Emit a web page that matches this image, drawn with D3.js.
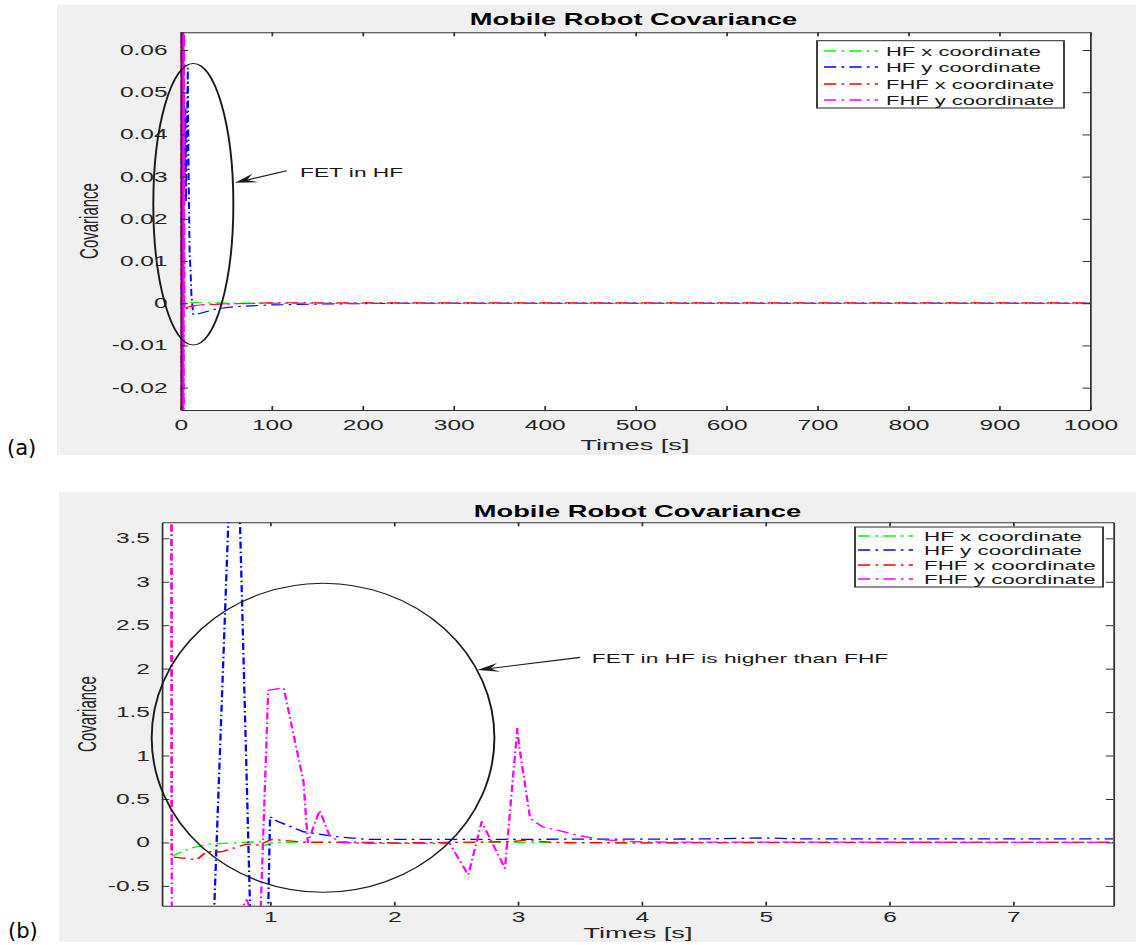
<!DOCTYPE html>
<html><head><meta charset="utf-8">
<script src="https://cdn.jsdelivr.net/npm/d3@7"></script>
<style>body{margin:0;background:#fff}svg{display:block}</style>
</head><body>
<svg id="c" width="1136" height="945"></svg>
<script>
// ---------- data ----------
const legendLabels = ["HF x coordinate", "HF y coordinate", "FHF x coordinate", "FHF y coordinate"];
const seriesColors = ["#00ff00", "#0000ff", "#ff0000", "#ff00ff"];
const titleText = "Mobile Robot Covariance";
const xLabelText = "Times [s]";
const yLabelText = "Covariance";
const panelLabels = ["(a)", "(b)"];

const topXTicks = [0, 100, 200, 300, 400, 500, 600, 700, 800, 900, 1000];
const topYTicks = [-0.02, -0.01, 0, 0.01, 0.02, 0.03, 0.04, 0.05, 0.06];
const botXTicks = [1, 2, 3, 4, 5, 6, 7];
const botYTicks = [-0.5, 0, 0.5, 1, 1.5, 2, 2.5, 3, 3.5];

// panel (a) series: [time, covariance]
const topHFx = [[0,0],[1,0.004],[2,-0.003],[3,0.002],[4,-0.0008],[6,0.0004],[10,0.0002],[30,0.0001],[100,0],[1000,0]];
const topHFy = [[0,0.012],[1,0.048],[1.5,0.02],[2.5,0.042],[3,0.026],[4,0.05],[4.5,0.03],[5.5,0.046],[6,0.024],[7,0.04],[8,0.0557],[9,0.03],[10,0.012],[11,0.008],[12,0.002],[14,-0.0028],[20,-0.0025],[40,-0.0013],[60,-0.0008],[100,-0.0004],[150,-0.0002],[250,0],[1000,0]];
const topFHFx = [[0,0.07],[0.6,-0.07],[1.2,0.06],[1.8,-0.05],[2.4,-0.001],[5,-0.0012],[10,-0.0008],[20,-0.0004],[50,-0.0002],[100,0.0001],[1000,0.0001]];
const topFHFy = [[0,0.1],[0.4,-0.1],[0.8,0.1],[1.2,-0.1],[1.6,0.1],[2,-0.1],[2.4,0.1],[2.8,-0.1],[3.2,0.1],[3.6,-0.1],[4,0.1],[4.4,-0.0015],[8,-0.0012],[15,-0.0006],[30,-0.0002],[100,0],[1000,0]];

// panel (b) series
const botHFx = [[0.206,-0.16],[0.354,-0.068],[0.5,-0.02],[0.7,-0.005],[0.92,0.008],[0.946,-0.04],[1.026,0],[1.3,0.005],[1.6,-0.005],[2,-0.005],[2.5,0],[3,0],[3.5,-0.005],[4.5,-0.003],[5.5,-0.003],[6.5,0],[7.81,0]];
const botHFy = [[0.466,-4],[0.718,5.82],[0.898,-4],[0.941,-4],[1.0,0.296],[1.05,0.25],[1.268,0.123],[1.538,0.066],[1.78,0.035],[2.45,0.035],[3,0.035],[3.5,0.038],[4,0.038],[4.5,0.04],[5,0.052],[5.3,0.04],[6,0.04],[7,0.04],[7.81,0.042]];
const botFHFx = [[0.2,10],[0.206,-0.165],[0.408,-0.2],[0.488,-0.107],[0.61,-0.107],[0.81,-0.02],[0.91,-0.03],[1.013,0.035],[1.3,0],[1.6,0.005],[2,-0.005],[2.5,0],[2.95,0.01],[3.05,0.025],[3.3,0],[4,-0.005],[5,0],[7.81,0]];
const botFHFy = [[0.2,10],[0.212,-10],[0.3,-3],[0.72,-0.9],[0.811,-0.66],[0.87,-0.85],[0.89,-2.2],[0.985,1.75],[1.11,1.78],[1.27,0.7],[1.305,0],[1.4,0.37],[1.48,0.08],[1.57,0],[1.8,-0.01],[2.45,-0.01],[2.601,-0.375],[2.709,0.238],[2.897,-0.298],[2.997,1.313],[3.01,1.13],[3.1,0.277],[3.2,0.18],[3.53,0.07],[3.7,0.03],[4,0.005],[7.81,0]];

// annotations in data units: ellipse [cx, cy, rx, ry], arrow [tail, tip], note [t, v]
const topEllipse = [14.1, 0.02346, 44, 0.03336];
const topArrow = [[116.8, 0.0314], [59.9, 0.02855]];
const topNote = [131.4, 0.02998];
const topNoteText = "FET in HF";
const botEllipse = [1.428, 1.204, 1.384, 1.778];
const botArrow = [[3.504, 2.13], [2.674, 1.984]];
const botNote = [3.598, 2.061];
const botNoteText = "FET in HF is higher than FHF";

// ---------- drawing ----------
const SX = 1.75;           // horizontal stretch of the original figure
const FONT = "'Liberation Sans', Arial, Helvetica, sans-serif";
const svg = d3.select("#c");

function panel(o, idx) {
  const g = svg.append("g").attr("transform", `scale(${SX},1)`);
  const L = o.plot[0] / SX, T = o.plot[1], R = o.plot[2] / SX, B = o.plot[3];
  g.append("rect").attr("x", o.bg[0] / SX).attr("y", o.bg[1])
    .attr("width", (o.bg[2] - o.bg[0]) / SX).attr("height", o.bg[3] - o.bg[1]).attr("fill", "#f0f0f0");
  g.append("rect").attr("x", L).attr("y", T).attr("width", R - L).attr("height", B - T).attr("fill", "#fff");

  const x = d3.scaleLinear().domain(o.xDomain).range([L, R]);
  const y = d3.scaleLinear().domain(o.yDomain).range([B, T]);

  const cid = "clip" + idx;
  g.append("clipPath").attr("id", cid).append("rect")
    .attr("x", L).attr("y", T).attr("width", R - L).attr("height", B - T);

  const line = d3.line().x(d => x(d[0])).y(d => y(d[1]));
  const lines = g.append("g").attr("clip-path", `url(#${cid})`);
  o.series.forEach((s, i) => {
    lines.append("path").attr("d", line(s)).attr("fill", "none")
      .attr("stroke", seriesColors[i]).attr("stroke-width", o.lw)
      .attr("stroke-dasharray", o.dash).attr("stroke-linejoin", "round");
  });

  // axes (box with inward ticks)
  const styleAxis = (sel, fs) => {
    sel.attr("font-family", FONT).attr("font-size", fs);
    sel.selectAll(".domain").attr("stroke", "#333").attr("stroke-width", 1);
    sel.selectAll(".tick line").attr("stroke", "#333").attr("stroke-width", 1);
    sel.selectAll(".tick text").attr("fill", "#262626");
  };
  styleAxis(g.append("g").attr("transform", `translate(0,${B})`)
    .call(d3.axisBottom(x).tickValues(o.xTicks).tickSize(-4).tickSizeOuter(0).tickPadding(o.xPad).tickFormat(d => String(d))), o.tickFs);
  styleAxis(g.append("g").attr("transform", `translate(0,${T})`)
    .call(d3.axisTop(x).tickValues(o.xTicks).tickSize(-4).tickSizeOuter(0).tickFormat("")), o.tickFs);
  styleAxis(g.append("g").attr("transform", `translate(${L},0)`)
    .call(d3.axisLeft(y).tickValues(o.yTicks).tickSize(-4.3).tickSizeOuter(0).tickPadding(o.yPad).tickFormat(o.fmt)), o.tickFs);
  styleAxis(g.append("g").attr("transform", `translate(${R},0)`)
    .call(d3.axisRight(y).tickValues(o.yTicks).tickSize(-4.3).tickSizeOuter(0).tickFormat("")), o.tickFs);

  // titles
  g.append("text").attr("x", o.titlePos[0] / SX).attr("y", o.titlePos[1]).attr("text-anchor", "middle")
    .attr("font-family", FONT).attr("font-weight", "bold").attr("font-size", o.titleFs).attr("fill", "#000").text(titleText);
  g.append("text").attr("x", o.xlabPos[0] / SX).attr("y", o.xlabPos[1]).attr("text-anchor", "middle")
    .attr("font-family", FONT).attr("font-size", o.labFs).attr("fill", "#262626").text(xLabelText);
  g.append("text").attr("transform", `translate(${o.ylabPos[0] / SX},${o.ylabPos[1]}) rotate(-90)`)
    .attr("text-anchor", "middle").attr("font-family", FONT).attr("font-size", o.ylabFs).attr("fill", "#262626").text(yLabelText);

  // annotation ellipse
  const e = o.ellipse;
  g.append("ellipse").attr("cx", x(e[0])).attr("cy", y(e[1]))
    .attr("rx", x(e[0] + e[2]) - x(e[0])).attr("ry", y(e[1] - e[3]) - y(e[1]))
    .attr("fill", "none").attr("stroke", "#1a1a1a").attr("stroke-width", 1.1);
  // arrow
  const tail = [x(o.arrow[0][0]), y(o.arrow[0][1])], tip = [x(o.arrow[1][0]), y(o.arrow[1][1])];
  const dx = tail[0] - tip[0], dy = tail[1] - tip[1], len = Math.hypot(dx, dy);
  const ux = dx / len, uy = dy / len, nx = -uy, ny = ux;
  const AL = 12.5, AW = 4.5;
  g.append("line").attr("x1", tail[0]).attr("y1", tail[1]).attr("x2", tip[0] + ux * AL * 0.6).attr("y2", tip[1] + uy * AL * 0.6)
    .attr("stroke", "#1a1a1a").attr("stroke-width", 1.1);
  g.append("path").attr("d", d3.line()([
    tip, [tip[0] + ux * AL + nx * AW, tip[1] + uy * AL + ny * AW],
    [tip[0] + ux * AL * 0.6, tip[1] + uy * AL * 0.6],
    [tip[0] + ux * AL - nx * AW, tip[1] + uy * AL - ny * AW]]) + "Z").attr("fill", "#1a1a1a");
  g.append("text").attr("x", x(o.note[0])).attr("y", y(o.note[1]))
    .attr("font-family", FONT).attr("font-size", 13).attr("fill", "#1a1a1a").text(o.noteText);

  // legend
  const lg = o.legend;
  g.append("rect").attr("x", lg.box[0] / SX).attr("y", lg.box[1]).attr("width", (lg.box[2] - lg.box[0]) / SX)
    .attr("height", lg.box[3] - lg.box[1]).attr("fill", "#fff").attr("stroke", "#262626").attr("stroke-width", 1);
  legendLabels.forEach((lab, i) => {
    const cy = Math.round(lg.row0 + i * lg.step);
    g.append("line").attr("x1", lg.line[0] / SX).attr("x2", lg.line[1] / SX).attr("y1", cy).attr("y2", cy)
      .attr("stroke", seriesColors[i]).attr("stroke-width", 1.6).attr("stroke-dasharray", "7,3,1.5,3");
    g.append("text").attr("x", lg.textX / SX).attr("y", cy + lg.fs * 0.36)
      .attr("font-family", FONT).attr("font-size", lg.fs).attr("fill", "#1a1a1a").text(lab);
  });

  svg.append("text").attr("x", o.pl[0]).attr("y", o.pl[1]).attr("font-family", "'DejaVu Sans', Verdana, sans-serif")
    .attr("font-size", 21).attr("fill", "#000").text(panelLabels[idx]);
}

const fmtTop = v => v === 0 ? "0" : String(+v.toFixed(2));
const fmtBot = v => String(v);

panel({
  bg: [57, 5, 1136, 455], plot: [180.5, 32.3, 1090, 410],
  xDomain: [0, 1000], yDomain: [-0.0253, 0.0642],
  xTicks: topXTicks, yTicks: topYTicks, fmt: fmtTop,
  series: [topHFx, topHFy, topFHFx, topFHFy], lw: 1.1, dash: "7,3,1.5,3",
  tickFs: 14, xPad: 10, yPad: 7.4,
  titlePos: [633.5, 25], titleFs: 15.6,
  xlabPos: [635, 450], labFs: 15.5, ylabPos: [98, 221], ylabFs: 15,
  ellipse: topEllipse, arrow: topArrow, note: topNote, noteText: topNoteText,
  legend: { box: [817, 40.7, 1064, 108], row0: 50.7, step: 16.45, line: [824, 878], textX: 886, fs: 12.55 },
  pl: [7, 455]
}, 0);

panel({
  bg: [59, 492, 1136, 942], plot: [161.7, 522.3, 1113.3, 905.7],
  xDomain: [0.125, 7.81], yDomain: [-0.728, 3.684],
  xTicks: botXTicks, yTicks: botYTicks, fmt: fmtBot,
  series: [botHFx, botHFy, botFHFx, botFHFy], lw: 1.3, dash: "7,3,1.5,3",
  tickFs: 14, xPad: 6.4, yPad: 6.7,
  titlePos: [637.5, 516.7], titleFs: 15.6,
  xlabPos: [638, 938], labFs: 15.5, ylabPos: [95.5, 714], ylabFs: 15,
  ellipse: botEllipse, arrow: botArrow, note: botNote, noteText: botNoteText,
  legend: { box: [855, 527, 1103, 587], row0: 535.7, step: 14.4, line: [858, 913], textX: 924, fs: 12.8 },
  pl: [8, 938]
}, 1);
</script>
</body></html>
